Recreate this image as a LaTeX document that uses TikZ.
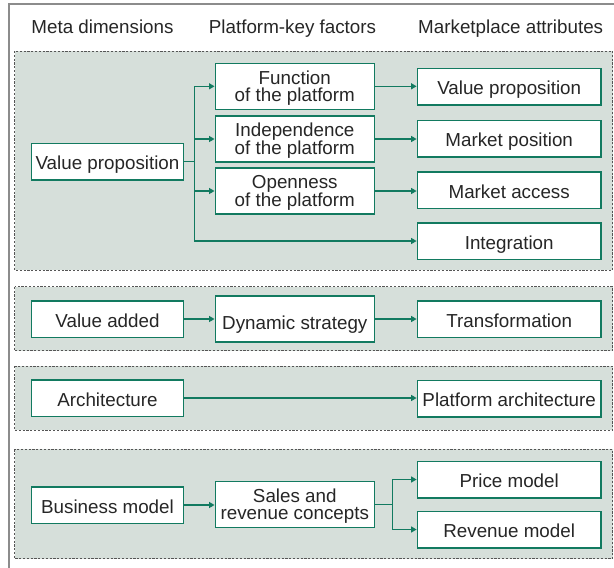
\documentclass[tikz,border=0pt]{standalone}
\usepackage{fontspec}
\setmainfont{Liberation Sans}
\usetikzlibrary{arrows.meta}
\definecolor{boxgreen}{RGB}{18,122,96}
\definecolor{secfill}{RGB}{214,223,218}
\definecolor{dashgray}{RGB}{85,85,85}
\definecolor{framegray}{RGB}{140,140,140}
\definecolor{txt}{RGB}{38,38,38}
\begin{document}
\begin{tikzpicture}[x=1pt,y=-1pt,
 every node/.style={font=\fontsize{18.8}{17.6}\selectfont, text=txt},
 box/.style={draw=boxgreen, line width=1.5pt, fill=white, inner sep=0pt, minimum height=36.5pt, text height=16.3pt, text depth=0pt, align=center},
 tallbox/.style={draw=boxgreen, line width=1.5pt, fill=white, inner sep=0pt, minimum height=46pt, text height=30.6pt, text depth=0pt, align=center},
 c1/.style={minimum width=151.6pt}, c2/.style={minimum width=159pt}, c3/.style={minimum width=183.7pt},
 section/.style={draw=dashgray, fill=secfill, line width=0.9pt, dash pattern=on 2.2pt off 1.6pt},
 conn/.style={draw=boxgreen, line width=1.3pt},
 arr/.style={conn, -{Triangle[length=5.5pt,width=6pt]}},
 hdr/.style={anchor=base}
]
\useasboundingbox (0,0) rectangle (614,568);
\clip (0,0) rectangle (614,568);
\draw[framegray, line width=2pt] (9,3.5) rectangle (630,580);
% sections
\draw[section] (14.7,51) rectangle (612.5,270);
\draw[section] (14.7,286.7) rectangle (612.5,350.7);
\draw[section] (14.7,366) rectangle (612.5,430.3);
\draw[section] (14.7,449.3) rectangle (612.5,558.7);
% headers
\node[hdr] (h1) at (102.5,33.3) {Meta dimensions};
\node[hdr] (h2) at (292.5,33.3) {Platform-key factors};
\node[hdr] (h3) at (510.7,33.3) {Marketplace attributes};
% section 1
\node[box,c1] (vp) at (107.5,161.7) {Value proposition};
\node[tallbox,c2] (fun) at (294.8,86.3) {Function\\of the platform};
\node[tallbox,c2] (ind) at (294.8,139) {Independence\\of the platform};
\node[tallbox,c2] (opn) at (294.8,191) {Openness\\of the platform};
\node[box,c3] (mvp) at (509.2,86.8) {Value proposition};
\node[box,c3] (mpos) at (509.2,138.5) {Market position};
\node[box,c3] (macc) at (509.2,190) {Market access};
\node[box,c3] (integ) at (509.2,241) {Integration};
\coordinate (b1) at ([xshift=10.7pt]vp.east);
\draw[conn] (vp.east) -- (b1);
\draw[arr] (b1) |- (fun.west);
\draw[arr] (b1) |- (ind.west);
\draw[arr] (b1) |- (opn.west);
\draw[arr] (b1) |- (integ.west);
\draw[arr] (fun.east) -- (fun.east -| mvp.west);
\draw[arr] (ind.east) -- (ind.east -| mpos.west);
\draw[arr] (opn.east) -- (opn.east -| macc.west);
% section 2
\node[box,c1] (vadd) at (107.5,319) {Value added};
\node[box,c2,minimum height=46pt,text height=21pt] (dyn) at (294.8,319) {Dynamic strategy};
\node[box,c3] (trans) at (509.2,319) {Transformation};
\draw[arr] (vadd) -- (dyn);
\draw[arr] (dyn) -- (trans);
% section 3
\node[box,c1] (arch) at (107.5,398) {Architecture};
\node[box,c3] (parch) at (509.2,398.5) {Platform architecture};
\draw[arr] (arch.east) -- (arch.east -| parch.west);
% section 4
\node[box,c1] (bm) at (107.5,505) {Business model};
\node[tallbox,c2] (sales) at (294.8,504.5) {Sales and\\revenue concepts};
\node[box,c3] (price) at (509.2,479.5) {Price model};
\node[box,c3] (rev) at (509.2,529.5) {Revenue model};
\draw[arr] (bm.east) -- (bm.east -| sales.west);
\coordinate (b2) at ([xshift=17.4pt]sales.east);
\draw[conn] (sales.east) -- (b2);
\draw[arr] (b2) |- (price.west);
\draw[arr] (b2) |- (rev.west);
\end{tikzpicture}
\end{document}
